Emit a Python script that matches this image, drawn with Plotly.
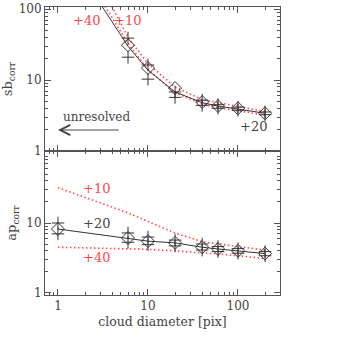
import numpy as np
import plotly.graph_objects as go
from plotly.subplots import make_subplots

# cloud diameters (pix)
diam = [1, 6, 10, 20, 40, 60, 100, 200]

# top panel: sb_corr
sb_x = [6, 10, 20, 40, 60, 100, 200]
sb_mean = [31, 14.8, 7.7, 4.9, 4.3, 4.0, 3.4]
sb_hi = [39, 16.3, 6.8, 5.2, 4.5, 4.15, 3.55]
sb_lo = [21, 10.3, 5.7, 4.4, 4.0, 3.75, 3.25]
sb_fit_x = [3.08, 6, 10, 20, 40, 60, 100, 200]
sb_fit = [110, 30, 13.8, 6.8, 4.8, 4.3, 3.9, 3.4]
sb_p40_x = [3.33, 6, 10, 20, 40, 60, 100, 200]
sb_p40 = [110, 33, 14, 6.6, 4.6, 4.1, 3.7, 3.2]
sb_p10_x = [3.98, 6, 10, 20, 40, 60, 100, 200]
sb_p10 = [110, 40, 17, 8.0, 5.3, 4.8, 4.3, 3.6]

# bottom panel: ap_corr
ap_mean = [8.2, 6.1, 5.5, 5.2, 4.5, 4.25, 4.0, 3.65]
ap_hi = [10, 7.2, 6.3, 5.7, 5.0, 4.6, 4.3, 3.9]
ap_lo = [7.0, 5.3, 4.9, 4.7, 4.1, 3.9, 3.7, 3.4]
ap_p10 = [32, 14, 10.5, 7.2, 5.4, 5.0, 4.6, 4.1]
ap_p40 = [4.5, 4.3, 4.2, 4.0, 3.8, 3.6, 3.4, 3.1]

FONT = "DejaVu Serif"
INK = "#444444"
RED = "#ff4a4a"

minor_vals = [m * 10 ** e for e in range(-1, 3) for m in range(2, 10)]

fig = make_subplots(rows=2, cols=1, shared_xaxes=True, vertical_spacing=0)


def add_panel(row, xs, mean, hi, lo, fit_x, fit, r1x, r1, r2x, r2):
    for rx, ry in ((r1x, r1), (r2x, r2)):
        fig.add_trace(go.Scatter(x=rx, y=ry, mode="lines",
                                 line=dict(color=RED, width=1.6, dash="1.5px,2.5px")),
                      row=row, col=1)
    fig.add_trace(go.Scatter(x=fit_x, y=fit, mode="lines",
                             line=dict(color="#333333", width=1)), row=row, col=1)
    fig.add_trace(go.Scatter(x=xs + xs, y=hi + lo, mode="markers",
                             marker=dict(symbol="cross-thin", size=9,
                                         line=dict(color="#333333", width=1))), row=row, col=1)
    fig.add_trace(go.Scatter(x=xs, y=mean, mode="markers",
                             marker=dict(symbol="diamond-open", size=10, color="#333333",
                                         line=dict(width=1))), row=row, col=1)


add_panel(1, sb_x, sb_mean, sb_hi, sb_lo, sb_fit_x, sb_fit, sb_p40_x, sb_p40, sb_p10_x, sb_p10)
add_panel(2, diam, ap_mean, ap_hi, ap_lo, diam, ap_mean, diam, ap_p10, diam, ap_p40)

ax_common = dict(type="log", showgrid=False, zeroline=False, showline=True,
                 linecolor="#555555", linewidth=1, mirror="allticks", automargin=False,
                 ticks="inside", ticklen=6, tickcolor="#555555",
                 minor=dict(ticks="inside", ticklen=3, tickcolor="#555555",
                            tickmode="array", tickvals=minor_vals, showgrid=False),
                 tickfont=dict(family=FONT, size=12, color=INK))

fig.update_xaxes(**ax_common, range=[-0.144, 2.467], tickvals=[1, 10, 100],
                 ticktext=["1", "10", "100"])
fig.update_xaxes(showticklabels=False, row=1, col=1)
fig.update_xaxes(title=dict(text="cloud diameter [pix]", standoff=4,
                            font=dict(family=FONT, size=12.5, color=INK)), row=2, col=1)
fig.update_yaxes(**ax_common)
fig.update_yaxes(range=[0, 2.03], row=1, col=1,
                 tickvals=[1, 10, 100], ticktext=["1", "10", "100"],
                 title=dict(text="sb<sub>corr</sub>", standoff=6,
                            font=dict(family=FONT, size=13, color=INK)))
fig.update_yaxes(range=[-0.03, 2.03], row=2, col=1,
                 tickvals=[1, 10], ticktext=["1", "10"],
                 title=dict(text="ap<sub>corr</sub>", standoff=6,
                            font=dict(family=FONT, size=13, color=INK)))

labels = [
    ("x", "y", 0.322, 1.845, "+40", RED),
    ("x", "y", 0.778, 1.845, "+10", RED),
    ("x", "y", 2.167, 0.352, "+20", INK),
    ("x2", "y2", 0.433, 1.5, "+10", RED),
    ("x2", "y2", 0.433, 1.0, "+20", INK),
    ("x2", "y2", 0.433, 0.5, "+40", RED),
]
for xr, yr, lx, ly, txt, col in labels:
    fig.add_annotation(xref=xr, yref=yr, x=lx, y=ly, text=txt, showarrow=False,
                       font=dict(family=FONT, size=13, color=col))

fig.add_annotation(xref="x", yref="y", x=0.43, y=0.48, text="unresolved", showarrow=False,
                   font=dict(family=FONT, size=12, color=INK))
fig.add_annotation(xref="x", yref="y", axref="x", ayref="y", x=0.0, y=0.296,
                   ax=0.69, ay=0.296, text="", showarrow=True, arrowhead=5,
                   arrowsize=2, arrowwidth=1, arrowcolor=INK)

fig.update_layout(width=346, height=341, showlegend=False,
                  margin=dict(l=45, r=66, t=7, b=46),
                  paper_bgcolor="white", plot_bgcolor="white")

fig.write_html("out.html", config={"displayModeBar": False},
               post_script="document.body.style.margin='0';")
